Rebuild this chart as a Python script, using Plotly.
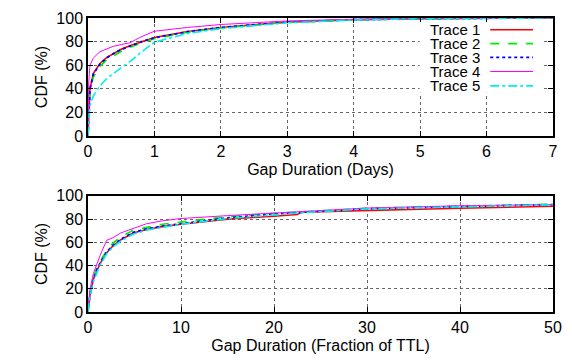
import plotly.graph_objects as go

# ---- data ----
series_names = ["Trace 1", "Trace 2", "Trace 3", "Trace 4", "Trace 5"]
series_colors = ["#ff0000", "#00ee00", "#0000ff", "#ff00ff", "#00eeee"]
series_dashes = ["solid", "dash", "dot", "solid", "dashdot"]
series_widths = [1.6, 1.6, 1.8, 1.0, 1.6]

days_x = [0, 0.01, 0.03, 0.08, 0.18, 0.28, 0.38, 0.5, 0.63, 0.8, 1.0, 1.5, 2, 3, 4, 5, 6, 7]
days_t1 = [0, 20, 40, 53, 61.5, 66.5, 70, 73.5, 76.5, 80, 83.5, 88.5, 92, 96.5, 98.5, 99.5, 99.8, 100]
days_t2 = [0, 18, 37, 50, 59, 64.5, 68, 71.8, 75, 79, 82.5, 88, 91.5, 96.2, 98.4, 99.4, 99.8, 100]
days_t3 = [0, 20, 40, 52.5, 61, 66.2, 69.8, 73.3, 76.3, 79.8, 83.3, 88.4, 92, 96.5, 98.5, 99.5, 99.8, 100]
days_t4 = [0, 45, 60, 66, 71.5, 74, 76, 77.5, 79, 84, 88.8, 92, 94.5, 97.5, 99, 99.7, 99.9, 100]
days_t5 = [0, 12, 26, 34, 42.5, 48.5, 53, 58, 63, 71, 79.5, 87, 91, 96, 98.3, 99.4, 99.8, 100]

ttl_x = [0, 0.2, 0.57, 1.0, 1.3, 2.0, 2.7, 3.5, 4.86, 6.3, 8, 10, 15, 20, 22.5, 23, 30, 40, 50]
ttl_t1 = [0, 14, 28, 37, 41.7, 51, 57, 62, 68, 71, 73.5, 75.5, 80, 82.5, 84, 86, 87.5, 89.4, 91]
ttl_t2 = [0, 15, 29, 39, 43.5, 53, 59.5, 64.5, 70.5, 73, 75.5, 77.5, 82, 85, 86, 86.3, 89.4, 91, 92.8]
ttl_t3 = [0, 14, 28, 37.5, 42, 51.5, 57.5, 62.5, 68.5, 71.5, 74, 76, 81, 84.5, 85.5, 85.8, 89, 90.8, 92.5]
ttl_t4 = [0, 19, 33, 43, 48.6, 61.7, 64, 68, 72, 76, 78.5, 80.5, 83, 85.5, 86.3, 86.5, 89.5, 91.5, 92.5]
ttl_t5 = [0, 13, 26, 35.5, 40.5, 50, 56, 61, 67, 70.5, 73, 75.5, 80.5, 84, 85.2, 85.5, 88.8, 90.6, 92.3]

days_series = [days_t1, days_t2, days_t3, days_t4, days_t5]
ttl_series = [ttl_t1, ttl_t2, ttl_t3, ttl_t4, ttl_t5]

FONT = "Liberation Sans, Arial, Helvetica, sans-serif"
FS = 16

fig = go.Figure()
for i in range(5):
    fig.add_trace(go.Scatter(
        x=days_x, y=days_series[i], mode="lines", name=series_names[i],
        line=dict(color=series_colors[i], dash=series_dashes[i], width=series_widths[i]),
        xaxis="x", yaxis="y", showlegend=False))
for i in range(5):
    fig.add_trace(go.Scatter(
        x=ttl_x, y=ttl_series[i], mode="lines", name=series_names[i],
        line=dict(color=series_colors[i], dash=series_dashes[i], width=series_widths[i]),
        xaxis="x2", yaxis="y2", showlegend=False))

axis_common = dict(
    showline=True, linecolor="black", linewidth=1.5, mirror="ticks",
    ticks="inside", ticklen=5, tickcolor="black", tickwidth=1,
    showgrid=True, gridcolor="#666666", griddash="dot", gridwidth=1,
    zeroline=False, tickfont=dict(family=FONT, size=FS, color="black"),
)

fig.update_layout(
    width=572, height=362,
    margin=dict(l=88, r=17, t=10, b=49),
    plot_bgcolor="white", paper_bgcolor="white",
    font=dict(family=FONT, size=FS, color="black"),
    xaxis=dict(domain=[0, 1], range=[0, 7], dtick=1, anchor="y",
               title=dict(text="Gap Duration (Days)", font=dict(family=FONT, size=FS), standoff=5),
               **axis_common),
    yaxis=dict(domain=[0.5984, 1], range=[0, 100], dtick=20, anchor="x",
               title=dict(text="CDF (%)", font=dict(family=FONT, size=FS), standoff=5),
               **axis_common),
    xaxis2=dict(domain=[0, 1], range=[0, 50], dtick=10, anchor="y2",
                title=dict(text="Gap Duration (Fraction of TTL)", font=dict(family=FONT, size=FS), standoff=5),
                **axis_common),
    yaxis2=dict(domain=[0, 0.395], range=[0, 100], dtick=20, anchor="x2",
                title=dict(text="CDF (%)", font=dict(family=FONT, size=FS), standoff=5),
                **axis_common),
)

# legend in gnuplot style: opaque box, text right-aligned, sample line on its right
# paper y = (313 - pixel_y) / 303 ; paper x = (pixel_x - 88) / 467
fig.add_shape(type="rect", xref="paper", yref="paper", layer="above",
              x0=(421 - 88) / 467, x1=(546 - 88) / 467,
              y0=(313 - 87) / 303, y1=(313 - 14) / 303,
              fillcolor="white", line=dict(width=0))
legend_rows = [0.960, 0.913, 0.866, 0.818, 0.769]
for i in range(5):
    fig.add_annotation(x=0.846, y=legend_rows[i], xref="paper", yref="paper",
                       text=series_names[i], showarrow=False, xanchor="right", yanchor="middle",
                       font=dict(family=FONT, size=15, color="black"),
                       borderpad=0)
    fig.add_shape(type="line", xref="paper", yref="paper", layer="above",
                  x0=0.865, x1=0.957, y0=legend_rows[i], y1=legend_rows[i],
                  line=dict(color=series_colors[i], dash=series_dashes[i], width=series_widths[i]))

fig.write_html("out.html")
